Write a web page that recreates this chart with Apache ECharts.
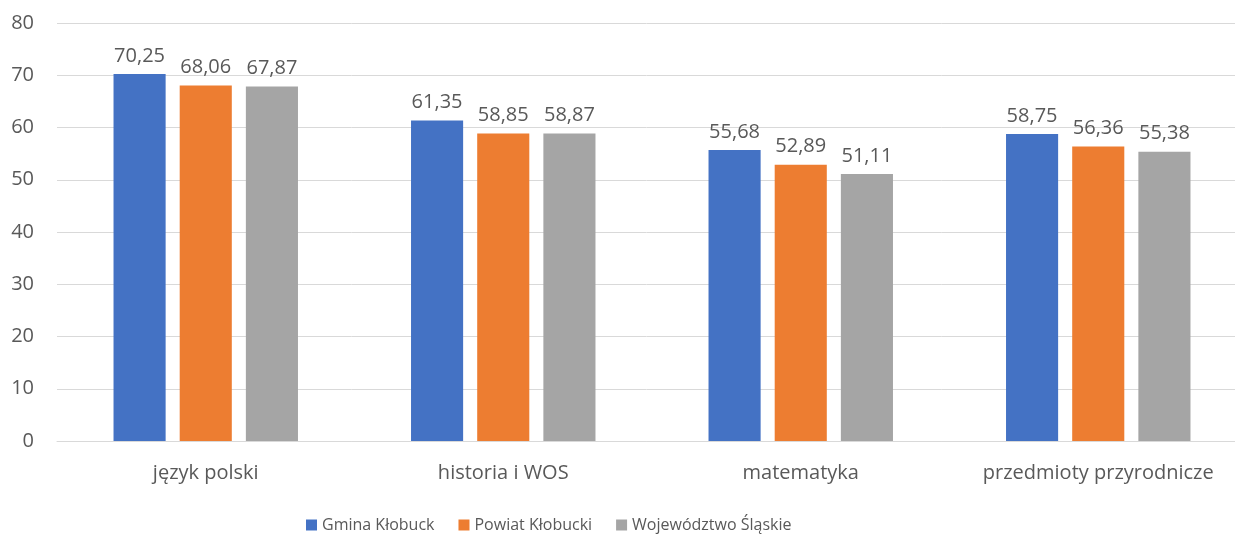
<!DOCTYPE html>
<html>
<head>
<meta charset="utf-8">
<script src="https://cdn.jsdelivr.net/npm/echarts@6/dist/echarts.min.js"></script>
<style>
  html, body { margin: 0; padding: 0; background: #fff; }
  #chart { width: 1235px; height: 538px; }
</style>
</head>
<body>
<div id="chart"></div>
<script>
var categories = ['język polski', 'historia i WOS', 'matematyka', 'przedmioty przyrodnicze'];
var seriesNames = ['Gmina Kłobuck', 'Powiat Kłobucki', 'Województwo Śląskie'];
var gmina = [70.25, 61.35, 55.68, 58.75];
var powiat = [68.06, 58.85, 52.89, 56.36];
var wojewodztwo = [67.87, 58.87, 51.11, 55.38];
var colors = ['#4472c4', '#ed7d31', '#a5a5a5'];

var FONT = '"Open Sans", sans-serif';
var TEXT = '#595959';

function fmt(v) { return v.toFixed(2).replace('.', ','); }

var chart = echarts.init(document.getElementById('chart'));
var values = [gmina, powiat, wojewodztwo];
chart.setOption({
  animation: false,
  textStyle: { fontFamily: FONT },
  color: colors,
  grid: {
    left: 57, width: 1190, top: 23, height: 418,
    containLabel: false, outerBoundsMode: 'none'
  },
  legend: {
    top: 512,
    left: 301,
    icon: 'rect',
    itemWidth: 11,
    itemHeight: 11,
    itemGap: 24,
    textStyle: { color: TEXT, fontSize: 16, fontFamily: FONT },
    data: seriesNames
  },
  xAxis: {
    type: 'category',
    data: categories,
    axisLine: { lineStyle: { color: '#d9d9d9', width: 1 } },
    axisTick: { show: false },
    axisLabel: { color: TEXT, fontSize: 20, margin: 22, interval: 0, fontFamily: FONT }
  },
  yAxis: {
    type: 'value',
    min: 0,
    max: 80,
    interval: 10,
    axisLine: { show: false },
    axisTick: { show: false },
    splitLine: { lineStyle: { color: '#d9d9d9', width: 1 } },
    axisLabel: { color: TEXT, fontSize: 20, margin: 23, fontFamily: FONT }
  },
  series: values.map(function (arr, i) {
    return {
      name: seriesNames[i],
      type: 'bar',
      data: arr,
      barGap: '27%',
      barCategoryGap: '38%',
      label: {
        show: true,
        position: 'top',
        distance: 8,
        color: TEXT,
        fontSize: 20,
        fontFamily: FONT,
        formatter: function (p) { return fmt(p.value); }
      }
    };
  })
});
</script>
</body>
</html>
